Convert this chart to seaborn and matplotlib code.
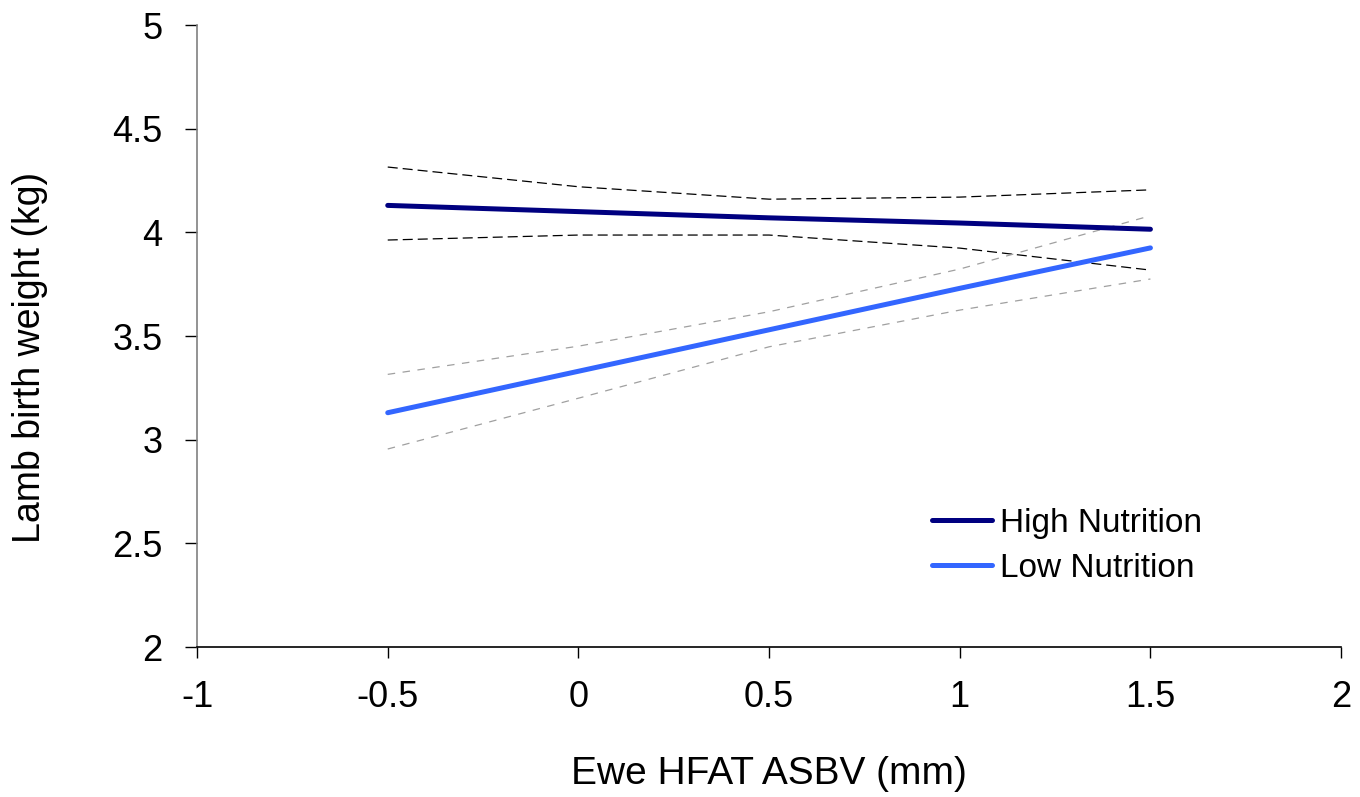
import matplotlib
matplotlib.use("Agg")
import matplotlib.pyplot as plt
import seaborn as sns
import pandas as pd
import numpy as np

# Data
hfat = [-0.5, 0.0, 0.5, 1.0, 1.5]
high_mean = [4.13, 4.10, 4.07, 4.045, 4.015]
high_upper = [4.315, 4.22, 4.16, 4.17, 4.205]
high_lower = [3.963, 3.987, 3.987, 3.924, 3.818]
low_mean = [3.13, 3.33, 3.53, 3.73, 3.925]
low_upper = [3.315, 3.451, 3.617, 3.823, 4.08]
low_lower = [2.955, 3.20, 3.448, 3.625, 3.775]

x_ticks = [-1, -0.5, 0, 0.5, 1, 1.5, 2]
x_tick_labels = ["-1", "-0.5", "0", "0.5", "1", "1.5", "2"]
y_ticks = [2, 2.5, 3, 3.5, 4, 4.5, 5]
y_tick_labels = ["2", "2.5", "3", "3.5", "4", "4.5", "5"]

sns.set_theme(style="white")
plt.rcParams["font.family"] = ["Liberation Sans", "DejaVu Sans"]

fig = plt.figure(figsize=(13.6, 7.97), dpi=100)
ax = fig.add_axes([0.1449, 0.1882, 0.8412, 0.7804])

df = pd.DataFrame({
    "x": hfat * 2,
    "y": high_mean + low_mean,
    "group": ["High Nutrition"] * 5 + ["Low Nutrition"] * 5,
})

# CI dashed lines
sns.lineplot(x=hfat, y=high_upper, ax=ax, color="black", lw=0.9,
             linestyle=(0, (8, 4)), legend=False)
sns.lineplot(x=hfat, y=high_lower, ax=ax, color="black", lw=0.9,
             linestyle=(0, (8, 4)), legend=False)
sns.lineplot(x=hfat, y=low_upper, ax=ax, color="#a0a0a0", lw=0.9,
             linestyle=(0, (6, 6)), legend=False)
sns.lineplot(x=hfat, y=low_lower, ax=ax, color="#a0a0a0", lw=0.9,
             linestyle=(0, (6, 6)), legend=False)

sns.lineplot(data=df, x="x", y="y", hue="group", ax=ax,
             palette={"High Nutrition": "#000080", "Low Nutrition": "#3366FF"},
             lw=3.6, solid_capstyle="round")

ax.set_xlim(-1, 2)
ax.set_ylim(2, 5)
ax.set_xticks(x_ticks)
ax.set_xticklabels(x_tick_labels)
ax.set_yticks(y_ticks)
ax.set_yticklabels(y_tick_labels)
ax.tick_params(axis="both", which="major", labelsize=26, colors="black",
               direction="out", bottom=True, left=True)
ax.tick_params(axis="x", length=8, width=1, pad=16)
ax.tick_params(axis="y", length=9, width=1, pad=16)

for s in ["top", "right"]:
    ax.spines[s].set_visible(False)
ax.spines["left"].set_color("#808080")
ax.spines["left"].set_linewidth(1.2)
ax.spines["bottom"].set_color("black")
ax.spines["bottom"].set_linewidth(1.2)

ax.set_xlabel("Ewe HFAT ASBV (mm)", fontsize=28, color="black")
ax.set_ylabel("Lamb birth weight (kg)", fontsize=27, color="black")
ax.xaxis.set_label_coords(0.5, -0.175)
ax.yaxis.set_label_coords(-0.130, 0.466)

handles, labels = ax.get_legend_handles_labels()
leg = ax.legend(handles=handles, labels=labels, loc="upper left",
                bbox_to_anchor=(0.631, 0.245), frameon=False, fontsize=24,
                handlelength=1.8, handletextpad=0.24, labelspacing=0.42,
                borderaxespad=0)
for t in leg.get_texts():
    t.set_color("black")

fig.savefig("out.png", dpi=100, facecolor="white")
